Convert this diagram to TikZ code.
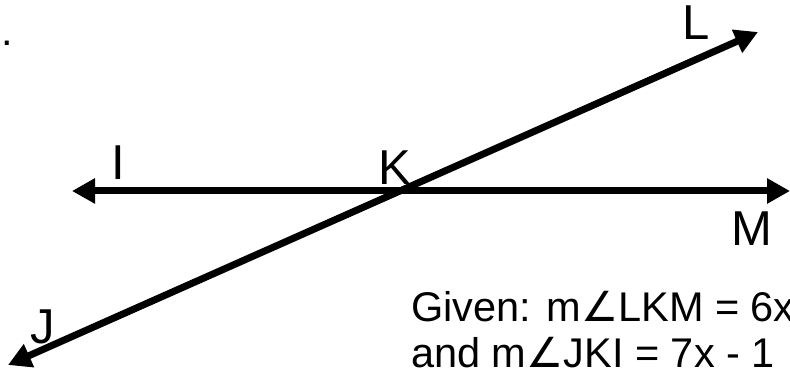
\documentclass[tikz,border=0pt]{standalone}
\usepackage{fontspec}
\setmainfont{Liberation Sans}
\newfontfamily\anglefont{DejaVu Sans}
\usetikzlibrary{arrows.meta}
\newcommand{\ang}{{\anglefont ∠}}

\begin{document}
\begin{tikzpicture}[
  x=1pt,y=1pt,
  ray/.style={line width=7pt,draw=black,
              {Triangle[length=23pt,width=24pt]}-{Triangle[length=23pt,width=24pt]}},
  lbl/.style={font=\fontsize{49}{52}\selectfont,inner sep=0pt},
  txt/.style={font=\fontsize{41.5}{46}\selectfont,inner sep=0pt,anchor=base west}
]
\useasboundingbox (0,0) rectangle (790,371);

% line IKM and line JKL
\coordinate (endI) at (72,180);
\coordinate (endM) at (790,180);
\coordinate (endJ) at (8,6);
\coordinate (endL) at (758,339);

\draw[ray] (endI) -- (endM);
\draw[ray] (endL) -- (endJ);

% point labels
\node[lbl] (labI) at (118,208) {I};
\node[lbl] (labK) at (395,203) {K};
\node[lbl] (labL) at (696,348) {L};
\node[lbl] (labM) at (752,142) {M};
\node[lbl] (labJ) at (43,44)   {J};

% given text
\node[txt] (dotA)   at (1,325)  {.};
\node[txt] (givenA) at (411,49) {Given: m\ang LKM = 6x};
\node[txt] (givenB) at (411,3)  {and m\ang JKI = 7x - 1};
\end{tikzpicture}
\end{document}
